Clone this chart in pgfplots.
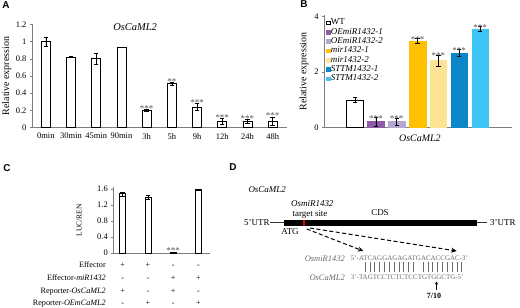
\documentclass[border=0pt]{standalone}
\usepackage{fontspec}
\setmainfont{Liberation Serif}
\newfontfamily\arialfont{Liberation Sans}
\usepackage{pgfplots}
\pgfplotsset{compat=1.18}
\usetikzlibrary{arrows.meta}
\definecolor{oeone}{HTML}{8E5BA6}
\definecolor{oetwo}{HTML}{B4A8D0}
\definecolor{mirone}{HTML}{FFC000}
\definecolor{mirtwo}{HTML}{FFE394}
\definecolor{sttmone}{HTML}{0B86C6}
\definecolor{sttmtwo}{HTML}{3CC4F4}
\definecolor{axgray}{HTML}{7F7F7F}
\definecolor{stargray}{HTML}{505050}
\definecolor{seqgray}{HTML}{6A6A6A}
\newcommand{\fs}[1]{\fontsize{#1}{#1}\selectfont}

\pgfplotsset{
 panel/.style={
   scale only axis, anchor=south west, clip=false,
   axis x line*=bottom, axis y line*=left, enlargelimits=false,
   axis line style={axgray, line width=0.6bp},
   tick align=outside, major tick length=2bp, tick pos=left,
   ytick style={axgray, line width=0.5bp},
   xtick style={draw=none},
   /pgf/number format/assume math mode=true,
   tick label style={font=\fs{8.5}, black},
   label style={font=\fs{10}},
   error bars/y dir=both, error bars/y explicit,
   error bars/error bar style={black, line width=0.5bp},
   error bars/error mark options={rotate=90, black, mark size=2.2bp, line width=0.5bp},
 },
}
\tikzset{sig/.style={font=\fs{9}, text=stargray, anchor=base, inner sep=0pt}}

\begin{document}
\begin{tikzpicture}
\path[use as bounding box] (0bp,0bp) rectangle (520bp,308bp);

% panel letters
\node[font=\arialfont\bfseries\fs{10}] at (6bp,303bp) {A};
\node[font=\arialfont\bfseries\fs{10}] at (304bp,304bp) {B};
\node[font=\arialfont\bfseries\fs{10}] at (7bp,139.7bp) {C};
\node[font=\arialfont\bfseries\fs{10}] at (233bp,141bp) {D};

% ---------------- Panel A
\begin{axis}[panel, at={(32bp,180.3bp)}, width=255bp, height=103.4bp,
  xmin=-0.55, xmax=9.57, ymin=0, ymax=1.2,
  ybar, bar width=9bp,
  xtick={0,...,9}, xticklabels={0min,30min,45min,90min,3h,5h,9h,12h,24h,48h},
  ytick={0,0.2,0.4,0.6,0.8,1,1.2},
  ylabel={Relative expression},
  ylabel style={at={(rel axis cs:-0.099,0.5)}, anchor=center},
]
\addplot[fill=white, draw=black, line width=0.6bp, bar shift=0pt] coordinates {
 (0,1.00) +- (0,0.05)
 (1,0.82) +- (0,0.004)
 (2,0.80) +- (0,0.06)
 (3,0.935) +- (0,0.004)
 (4,0.20) +- (0,0.01)
 (5,0.51) +- (0,0.012)
 (6,0.24) +- (0,0.04)
 (7,0.075) +- (0,0.03)
 (8,0.075) +- (0,0.02)
 (9,0.075) +- (0,0.045)
};
\node[font=\fs{10.5}\itshape] at (axis cs:3.54,1.172) {OsCaML2};
\node[sig, yshift=-1.5bp] at (axis cs:4,0.21) {***};
\node[sig, yshift=-1.5bp] at (axis cs:5,0.522) {**};
\node[sig, yshift=-1.5bp] at (axis cs:6,0.28) {***};
\node[sig, yshift=-1.5bp] at (axis cs:7,0.105) {***};
\node[sig, yshift=-1.5bp] at (axis cs:8,0.095) {***};
\node[sig, yshift=-1.5bp] at (axis cs:9,0.12) {***};
\end{axis}

% ---------------- Panel B
\begin{axis}[panel, at={(324bp,180.3bp)}, width=187.7bp, height=112.4bp,
  xmin=-1.49, xmax=7.52, ymin=0, ymax=4.05,
  ybar, bar width=16.5bp,
  xtick=\empty, ytick={0,2,4},
  ylabel={Relative expression},
  ylabel style={at={(rel axis cs:-0.107,0.5)}, anchor=center},
  xlabel={\textit{OsCaML2}},
  xlabel style={at={(rel axis cs:0.511,0)}, anchor=center, yshift=-10.3bp},
  legend cell align=left,
  legend style={at={(rel axis cs:0.01,0.975)}, anchor=north west, draw=none, fill=none,
    font=\fs{9}, row sep=0.5bp, inner sep=0pt, nodes={inner sep=0.7bp}},
  legend image code/.code={\draw[#1] (0bp,-1.8bp) rectangle (3.6bp,1.8bp);},
]
\addplot[fill=white, draw=black, line width=0.6bp, bar shift=0pt] coordinates {(0,1.00) +- (0,0.1)};
\addlegendentry{WT}
\addplot[fill=oeone, draw=oeone, bar shift=0pt] coordinates {(1,0.22) +- (0,0.15)};
\addlegendentry{\textit{OEmiR1432-1}}
\addplot[fill=oetwo, draw=oetwo, bar shift=0pt] coordinates {(2,0.22) +- (0,0.13)};
\addlegendentry{\textit{OEmiR1432-2}}
\addplot[fill=mirone, draw=mirone, bar shift=0pt] coordinates {(3,3.13) +- (0,0.1)};
\addlegendentry{\textit{mir1432-1}}
\addplot[fill=mirtwo, draw=mirtwo, bar shift=0pt] coordinates {(4,2.42) +- (0,0.2)};
\addlegendentry{\textit{mir1432-2}}
\addplot[fill=sttmone, draw=sttmone, bar shift=0pt] coordinates {(5,2.70) +- (0,0.12)};
\addlegendentry{\textit{STTM1432-1}}
\addplot[fill=sttmtwo, draw=sttmtwo, bar shift=0pt] coordinates {(6,3.56) +- (0,0.08)};
\addlegendentry{\textit{STTM1432-2}}
\node[sig, yshift=-4bp] at (axis cs:1,0.37) {***};
\node[sig, yshift=-4bp] at (axis cs:2,0.35) {***};
\node[sig, yshift=-4bp] at (axis cs:3,3.23) {***};
\node[sig, yshift=-4bp] at (axis cs:4,2.62) {***};
\node[sig, yshift=-4bp] at (axis cs:5,2.82) {***};
\node[sig, yshift=-4bp] at (axis cs:6,3.64) {***};
\end{axis}

% ---------------- Panel C
\begin{axis}[panel, at={(113.3bp,55bp)}, width=96.7bp, height=65.6bp,
  xmin=-0.37, xmax=3.46, ymin=0, ymax=1.64,
  ybar, bar width=6bp,
  xtick=\empty, ytick={0,0.4,0.8,1.2,1.6},
  ylabel={LUC/REN},
  ylabel style={font=\fs{7.5}, at={(rel axis cs:-0.352,0.5)}, anchor=center},
]
\addplot[fill=white, draw=black, line width=0.6bp, bar shift=0pt] coordinates {
 (0,1.48) +- (0,0.05)
 (1,1.39) +- (0,0.05)
 (2,0.02) +- (0,0.01)
 (3,1.59) +- (0,0.01)
};
\node[sig, yshift=-1.5bp] at (axis cs:2,0.03) {***};
\begin{scope}[every node/.style={font=\fs{8.2}, text height=1.6ex, text depth=0.4ex, inner sep=0pt}]
\node[anchor=east] at (axis cs:-0.66,-0.30) {Effector};
\node[anchor=east] at (axis cs:-0.66,-0.6175) {Effector-\textit{miR1432}};
\node[anchor=east] at (axis cs:-0.66,-0.9325) {Reporter-\textit{OsCaML2}};
\node[anchor=east] at (axis cs:-0.66,-1.25) {Reporter-\textit{OEmCaML2}};
\node at (axis cs:0,-0.30) {+}; \node at (axis cs:1,-0.30) {+};
\node at (axis cs:2,-0.30) {-}; \node at (axis cs:3,-0.30) {-};
\node at (axis cs:0,-0.6175) {-}; \node at (axis cs:1,-0.6175) {-};
\node at (axis cs:2,-0.6175) {+}; \node at (axis cs:3,-0.6175) {+};
\node at (axis cs:0,-0.9325) {+}; \node at (axis cs:1,-0.9325) {-};
\node at (axis cs:2,-0.9325) {+}; \node at (axis cs:3,-0.9325) {-};
\node at (axis cs:0,-1.25) {-}; \node at (axis cs:1,-1.25) {+};
\node at (axis cs:2,-1.25) {-}; \node at (axis cs:3,-1.25) {+};
\end{scope}
\end{axis}

% ---------------- Panel D
\begin{scope}[x=1bp, y=1bp, font=\fs{9}]
\node[anchor=west, font=\fs{9}\itshape] at (245,118) {OsCaML2};
\node[anchor=west, inner sep=0pt] at (244,85.3) {5'UTR};
\draw[line width=0.6bp, black!80] (270,85.3) -- (284.3,85.3);
\fill[black] (284.3,82.3) rectangle (476.7,88);
\fill[red!85!black] (303.4,82.3) rectangle (305.4,88);
\draw[line width=0.6bp, black!80] (476.7,85.3) -- (486.7,85.3);
\node[anchor=west, inner sep=0pt] at (490,85.3) {3'UTR};
\node[font=\fs{9}\itshape] at (312.3,104.7) {OsmiR1432};
\node at (310,93.7) {target site};
\node at (380,95) {CDS};
\node at (290,76.3) {ATG};
\draw[line width=1bp, dash pattern=on 4bp off 2.5bp, -{Stealth[length=5.5bp,width=5bp]}] (306.7,79) -- (363.3,57);
\draw[line width=1bp, dash pattern=on 4bp off 2.5bp, -{Stealth[length=5.5bp,width=5bp]}] (310,80) -- (456.7,57);
\node[anchor=east, inner sep=0pt, font=\fs{8.5}\itshape, text=seqgray] at (345,49.7) {OsmiR1432};
\node[anchor=west, inner sep=0pt, font=\fs{7}, text=seqgray] at (350.7,49.7) {5'-ATCAGGAGAGATGACACCGAC-3'};
\foreach \i in {0,...,20}{\ifnum\i=11\relax\else\draw[seqgray, line width=0.4bp] ({365+4.83*\i},35.5) -- ({365+4.83*\i},45.5);\fi}
\node[anchor=east, inner sep=0pt, font=\fs{8.5}\itshape, text=seqgray] at (345,30.7) {OsCaML2};
\node[anchor=west, inner sep=0pt, font=\fs{7}, text=seqgray] at (350.7,30.7) {3'-TAGTCCTCTCTCCTGTGGCTG-5'};
\draw[line width=0.7bp, -{Stealth[length=3bp,width=3bp]}] (436.5,18) -- (436.5,26.5);
\node[font=\bfseries\fs{8}] at (434,12.5) {7/10};
\end{scope}
\end{tikzpicture}
\end{document}
